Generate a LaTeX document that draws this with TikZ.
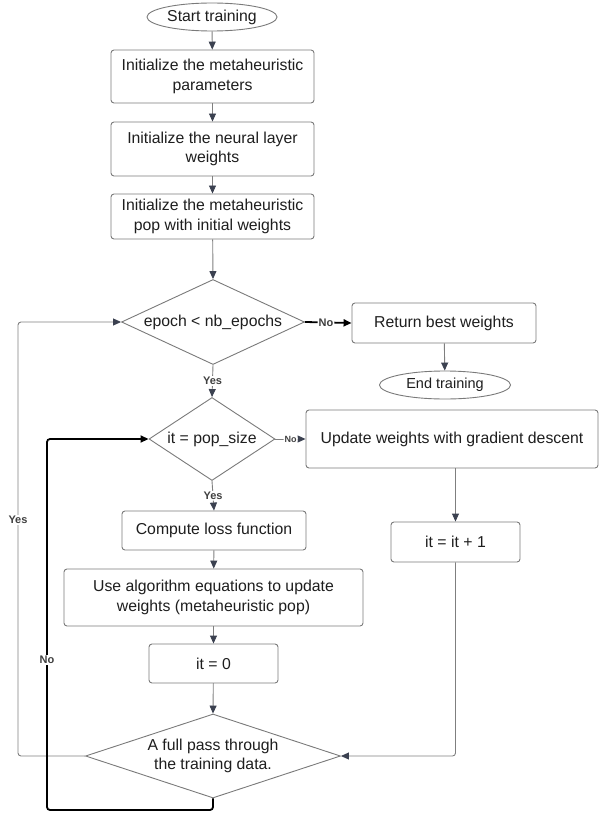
\documentclass[tikz,border=0pt]{standalone}
\usepackage{fontspec}
\setmainfont{Liberation Sans}
\usetikzlibrary{arrows.meta,shapes.geometric}
\definecolor{linegray}{HTML}{7F7F7F}
\definecolor{boxgray}{HTML}{7A7A7A}
\definecolor{tipgray}{HTML}{3B4150}
\definecolor{txt}{HTML}{1E1E1E}
\tikzset{
  every node/.style={text=txt, font=\fontsize{15.8}{19.5}\selectfont},
  procbox/.style={draw=boxgray, line width=0.9pt, rounded corners=3pt, align=center, inner sep=0pt, fill=white},
  term/.style={draw=boxgray, line width=0.9pt, ellipse, inner sep=0pt, fill=white},
  decis/.style={draw=boxgray, line width=0.9pt, diamond, inner sep=0pt, align=center, fill=white},
  conn/.style={draw=linegray, line width=0.9pt, rounded corners=3pt, -{Triangle[length=8pt,width=7pt,color=tipgray]}},
  heavy/.style={draw=black, line width=1.8pt, rounded corners=3pt, -{Triangle[length=8pt,width=7pt,color=black]}},
  lbl/.style={font=\bfseries\fontsize{11}{12}\selectfont, text=txt!85!white, fill=white, inner sep=1pt},
}
\begin{document}
\begin{tikzpicture}[x=1pt,y=-1pt]
\useasboundingbox (0,0) rectangle (600,813);
% nodes
\node[term, minimum width=130pt, minimum height=28pt] (start) at (212,17) {Start training};
\node[procbox, minimum width=203pt, minimum height=53pt] (b1) at (212.5,76.5) {Initialize the metaheuristic\\parameters};
\node[procbox, minimum width=203pt, minimum height=54pt] (b2) at (212.5,149) {Initialize the neural layer\\weights};
\node[procbox, minimum width=203pt, minimum height=45pt] (b3) at (212.5,216.5) {Initialize the metaheuristic\\pop with initial weights};
\node[decis, minimum width=183pt, minimum height=85pt, shape aspect=2.15] (d1) at (213,322) {epoch < nb\_epochs};
\node[procbox, minimum width=184pt, minimum height=40pt] (ret) at (444,323) {Return best weights};
\node[term, minimum width=131pt, minimum height=28pt, font=\fontsize{14.5}{17}\selectfont] (end) at (445,385) {End training};
\node[decis, minimum width=126pt, minimum height=83pt, shape aspect=1.5] (d2) at (212,439) {it = pop\_size};
\node[procbox, minimum width=292pt, minimum height=58pt] (upd) at (452,439) {Update weights with gradient descent};
\node[procbox, minimum width=129pt, minimum height=40pt] (inc) at (455.5,542) {it = it + 1};
\node[procbox, minimum width=184pt, minimum height=39pt] (loss) at (214,530.5) {Compute loss function};
\node[procbox, minimum width=299pt, minimum height=57pt] (algo) at (213.5,597.5) {Use algorithm equations to update\\weights (metaheuristic pop)};
\node[procbox, minimum width=129pt, minimum height=39pt] (zero) at (213.5,663.5) {it = 0};
\node[decis, minimum width=255pt, minimum height=84pt, shape aspect=3.0] (d3) at (213,756) {A full pass through\\the training data.};
% helper coordinates
\coordinate (yesx) at (18,0);
\coordinate (nox) at (47,0);
\coordinate (noy) at (0,810);
% connectors
\draw[conn] (start) -- (b1);
\draw[conn] (b1) -- (b2);
\draw[conn] (b2) -- (b3);
\draw[conn] (b3) -- (d1.north);
\draw[heavy] (d1.east) -- (ret.west) node[lbl, pos=0.45] {No};
\draw[conn] (ret) -- (end);
\draw[conn] (d1.south) -- (d2.north) node[lbl, midway] {Yes};
\draw[conn] (d2.east) -- (upd.west) node[lbl, midway, font=\bfseries\fontsize{9}{10}\selectfont] {No};
\draw[conn] (inc.north |- upd.south) -- (inc.north);
\draw[conn] (inc.south) |- (d3.east);
\draw[conn] (d2.south) -- (loss.north) node[lbl, midway] {Yes};
\draw[conn] (loss) -- (algo);
\draw[conn] (algo) -- (zero);
\draw[conn] (zero) -- (d3.north);
\draw[conn] (d3.west) -- (d3.west -| yesx) -- (d1.west -| yesx) -- (d1.west);
\node[lbl] (yeslbl) at (18,520) {Yes};
\draw[heavy] (d3.south) -- (d3.south |- noy) -- (noy -| nox) -- (d2.west -| nox) -- (d2.west);
\node[lbl] (nolbl) at (47,660) {No};
\end{tikzpicture}
\end{document}
